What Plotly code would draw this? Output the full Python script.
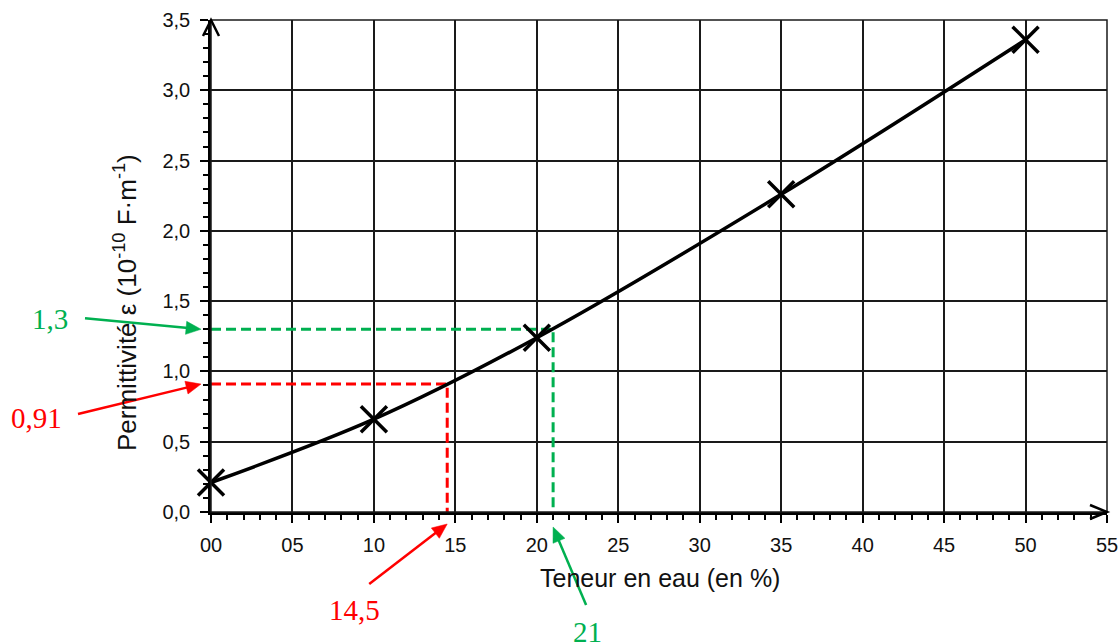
import math
import plotly.graph_objects as go

# ---- data ----
teneur = [0, 10, 20, 35, 50]
permittivite = [0.21, 0.66, 1.24, 2.26, 3.36]

x_range = [0, 55]
y_range = [0, 3.5]
x_ticks = [0, 5, 10, 15, 20, 25, 30, 35, 40, 45, 50, 55]
x_ticktext = ["00", "05", "10", "15", "20", "25", "30", "35", "40", "45", "50", "55"]
y_ticks = [0, 0.5, 1.0, 1.5, 2.0, 2.5, 3.0, 3.5]
y_ticktext = ["0,0", "0,5", "1,0", "1,5", "2,0", "2,5", "3,0", "3,5"]

green_x, green_y = 21, 1.3
red_x, red_y = 14.5, 0.91

GREEN = "#00B050"
RED = "#FF0000"

fig = go.Figure()

# dashed reading lines
fig.add_trace(go.Scatter(x=[0, green_x, green_x], y=[green_y, green_y, 0], mode="lines",
                         line=dict(color=GREEN, width=3, dash="10px,5px"), hoverinfo="skip",
                         cliponaxis=False, showlegend=False))
fig.add_trace(go.Scatter(x=[0, red_x, red_x], y=[red_y, red_y, 0], mode="lines",
                         line=dict(color=RED, width=3, dash="10px,5px"), hoverinfo="skip",
                         cliponaxis=False, showlegend=False))

# main curve
fig.add_trace(go.Scatter(x=teneur, y=permittivite, mode="lines+markers",
                         line=dict(color="black", width=3.5, shape="spline", smoothing=1),
                         marker=dict(symbol="x-thin", size=26, line=dict(color="black", width=3.5)),
                         cliponaxis=False, showlegend=False))

tickfont = dict(family="Liberation Sans, Arial, sans-serif", size=20, color="#111")

fig.update_xaxes(range=x_range, tickvals=x_ticks, ticktext=x_ticktext, tickfont=tickfont,
                 showgrid=True, gridcolor="#1a1a1a", gridwidth=1.5,
                 showline=True, linecolor="black", linewidth=2.5,
                 ticks="outside", ticklen=8, tickwidth=2, tickcolor="black",
                 ticklabelstandoff=5,
                 minor=dict(dtick=1, tick0=0, ticks="outside", ticklen=5, tickwidth=1.5,
                            tickcolor="black", showgrid=False),
                 zeroline=False, fixedrange=True, automargin=False)
fig.update_yaxes(range=y_range, tickvals=y_ticks, ticktext=y_ticktext, tickfont=tickfont,
                 showgrid=True, gridcolor="#1a1a1a", gridwidth=1.5,
                 showline=True, linecolor="black", linewidth=2.5,
                 ticks="outside", ticklen=8, tickwidth=2, tickcolor="black",
                 ticklabelstandoff=6,
                 minor=dict(dtick=0.1, tick0=0, ticks="outside", ticklen=5, tickwidth=1.5,
                            tickcolor="black", showgrid=False),
                 zeroline=False, fixedrange=True, automargin=False)

serif = "Liberation Serif, Times New Roman, serif"
sans = "Liberation Sans, Arial, sans-serif"
W, L = 896.0, 211.0
H, T = 492.0, 20.0


def px(xp):
    return (xp - L) / W


def py(yp):
    return (T + H - yp) / H


def xfrac(v):
    return (v - x_range[0]) / (x_range[1] - x_range[0])


def yfrac(v):
    return (v - y_range[0]) / (y_range[1] - y_range[0])


def arrow_shapes(tip_x, tip_y, dx, dy, color, hl=15, hw=6.5, width=2.5):
    """Arrow whose tip is at paper (tip_x, tip_y); tail offset (dx, dy) in screen px (dy down)."""
    sx, sy = dx, -dy
    n = math.hypot(sx, sy)
    ux, uy = sx / n, sy / n
    bx, by = ux * hl, uy * hl
    nx, ny = -uy, ux
    p1 = (bx + nx * hw, by + ny * hw)
    p2 = (bx - nx * hw, by - ny * hw)
    common = dict(xref="paper", yref="paper", xsizemode="pixel", ysizemode="pixel",
                  xanchor=tip_x, yanchor=tip_y, layer="above")
    return [
        dict(type="path", path=f"M {sx:.1f},{sy:.1f} L {bx*0.5:.1f},{by*0.5:.1f}",
             line=dict(color=color, width=width), **common),
        dict(type="path", path=f"M 0,0 L {p1[0]:.1f},{p1[1]:.1f} L {p2[0]:.1f},{p2[1]:.1f} Z",
             fillcolor=color, line=dict(color=color, width=0.5), **common),
    ]


# border and axis arrows (paper-referenced so they are not clipped)
shapes = [
    dict(type="rect", xref="paper", yref="paper", x0=0, x1=1, y0=0, y1=1,
         line=dict(color="#1a1a1a", width=1.5), layer="above"),
    dict(type="path", xref="paper", yref="paper", xsizemode="pixel", ysizemode="pixel",
         xanchor=0, yanchor=1, path="M -8,-16 L 0,0 L 8,-16",
         line=dict(color="black", width=2.5), layer="above"),
    dict(type="path", xref="paper", yref="paper", xsizemode="pixel", ysizemode="pixel",
         xanchor=1, yanchor=0, path="M -17,7 L 0,0 L -17,-7",
         line=dict(color="black", width=2.5), layer="above"),
]
shapes += arrow_shapes(px(201), yfrac(green_y), -116, -11, GREEN)
shapes += arrow_shapes(px(201), yfrac(red_y), -123, 30, RED)
shapes += arrow_shapes(xfrac(red_x), py(524), -78, 60, RED)
shapes += arrow_shapes(xfrac(green_x), py(527), 33, 78, GREEN)


def label(text, xp, yp, size, color, family, angle=0):
    return dict(text=text, xref="paper", yref="paper", x=px(xp), y=py(yp),
                xanchor="center", yanchor="middle", textangle=angle, showarrow=False,
                font=dict(family=family, size=size, color=color))


annotations = [
    label("Teneur en eau (en %)", 660, 578, 25, "#111", sans),
    label("Permittivité ε (10<sup>-10</sup> F·m<sup>-1</sup>)", 125, 303, 26, "#111", sans, -90),
    label("1,3", 50, 319, 29, GREEN, serif),
    label("0,91", 36, 418, 29, RED, serif),
    label("14,5", 354, 610, 29, RED, serif),
    label("21", 587, 632, 29, GREEN, serif),
]

fig.update_layout(width=1120, height=643, autosize=False,
                  margin=dict(l=211, r=13, t=20, b=131),
                  paper_bgcolor="white", plot_bgcolor="white",
                  shapes=shapes, annotations=annotations, showlegend=False)

fig.write_html("out.html", config={"displayModeBar": False},
               post_script="document.body.style.margin='0';document.body.style.overflow='hidden';")
